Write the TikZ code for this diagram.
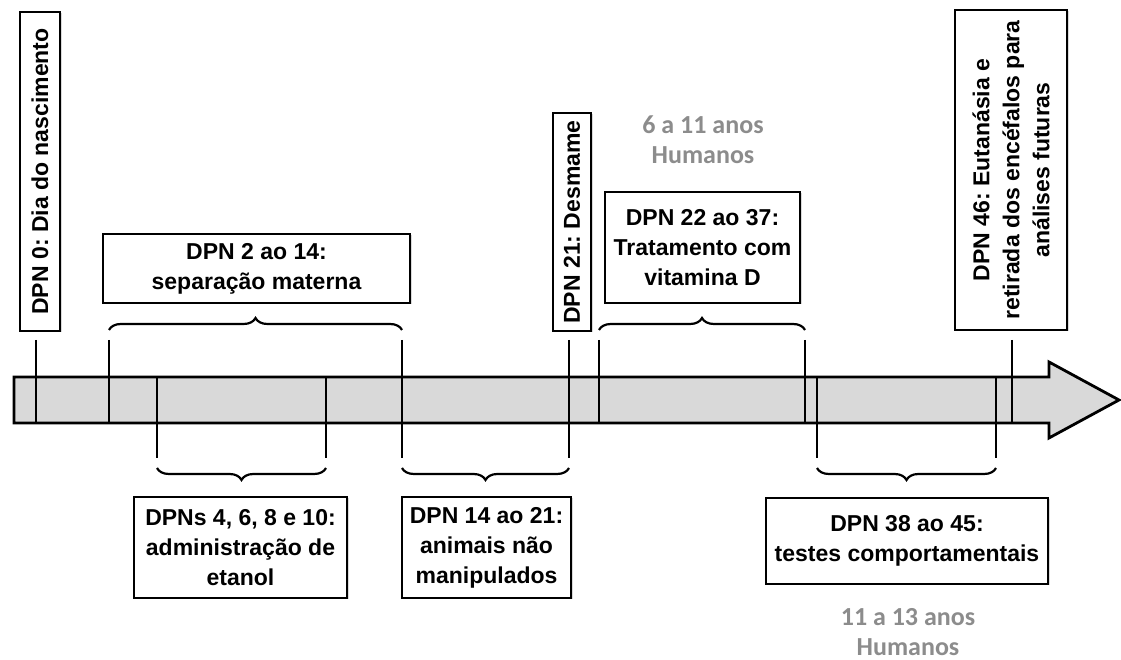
\documentclass[tikz,border=0pt]{standalone}
\usepackage{fontspec}
\setmainfont{Liberation Sans}
\newfontfamily\agefont{Carlito}
\usetikzlibrary{decorations.pathreplacing,shadows}
\definecolor{barfill}{HTML}{D9D9D9}
\definecolor{agegray}{HTML}{8C8C8C}
\frenchspacing

\begin{document}
\begin{tikzpicture}[x=1pt,y=1pt,font=\fontsize{23}{30}\selectfont\bfseries,
 box/.style={draw,line width=2.8pt,fill=white,align=center,inner sep=2pt,drop shadow={shadow xshift=1.5pt,shadow yshift=-1.5pt,opacity=0.3}},
 vbox/.style={box,rotate=90},
 tick/.style={line width=2.5pt},
 brc/.style={decorate,decoration={brace,amplitude=12pt},line width=2.2pt},
 age/.style={font=\agefont\fontsize{26}{30}\selectfont\bfseries,text=agegray,align=center}]
\useasboundingbox (0,0) rectangle (1121,660);
% timeline arrow
\draw[line width=2.8pt,fill=barfill] (14,237) -- (1049,237) -- (1049,222) -- (1119,260) -- (1049,298) -- (1049,283) -- (14,283) -- cycle;
% ticks above / below the bar
\draw[tick] (36,320) -- (36,237); \draw[tick] (109,320) -- (109,237); \draw[tick] (157,283) -- (157,202); \draw[tick] (326,283) -- (326,202);
\draw[tick] (402,320) -- (402,202); \draw[tick] (569,320) -- (569,202); \draw[tick] (599,320) -- (599,237); \draw[tick] (805,320) -- (805,237);
\draw[tick] (817,283) -- (817,202); \draw[tick] (996,283) -- (996,202); \draw[tick] (1012,320) -- (1012,237);
% braces
\coordinate (sepL) at (109,330); \coordinate (sepR) at (402,330); \coordinate (vitL) at (599,330); \coordinate (vitR) at (805,330);
\coordinate (etaL) at (157,192); \coordinate (etaR) at (326,192); \coordinate (nmL) at (402,192); \coordinate (nmR) at (569,192);
\coordinate (tesL) at (817,192); \coordinate (tesR) at (996,192);
\draw[brc] (sepL) -- (sepR); \draw[brc] (vitL) -- (vitR);
\draw[brc] (etaR) -- (etaL); \draw[brc] (nmR) -- (nmL); \draw[brc] (tesR) -- (tesL);
% events
\node (nascimento) [vbox,minimum width=319,minimum height=40] at (40,488.5) {DPN 0: Dia do nascimento};
\node (separacao) [box,minimum width=307,minimum height=69] at (256.5,391.5) {DPN 2 ao 14:\\separação materna};
\node (desmame) [vbox,minimum width=218,minimum height=38] at (572,438) {DPN 21: Desmame};
\node (vitd) [box,minimum width=195,minimum height=111] at (702.5,412.5) {DPN 22 ao 37:\\Tratamento com\\vitamina D};
\node (eutanasia) [vbox,minimum width=320,minimum height=112] at (1011,490) {DPN 46: Eutanásia e\\retirada dos encéfalos para\\análises futuras};
\node (etanol) [box,minimum width=213,minimum height=101] at (240.5,112.5) {DPNs 4, 6, 8 e 10:\\administração de\\etanol};
\node (naomanip) [box,minimum width=169,minimum height=101] at (486.5,112.5) {DPN 14 ao 21:\\animais não\\manipulados};
\node (testes) [box,minimum width=282,minimum height=86] at (907,119) {DPN 38 ao 45:\\testes comportamentais};
% human age equivalents
\node (idade1) [age] at (703,520) {6 a 11 anos\\Humanos};
\node (idade2) [age] at (908,28) {11 a 13 anos\\Humanos};
\end{tikzpicture}
\end{document}
